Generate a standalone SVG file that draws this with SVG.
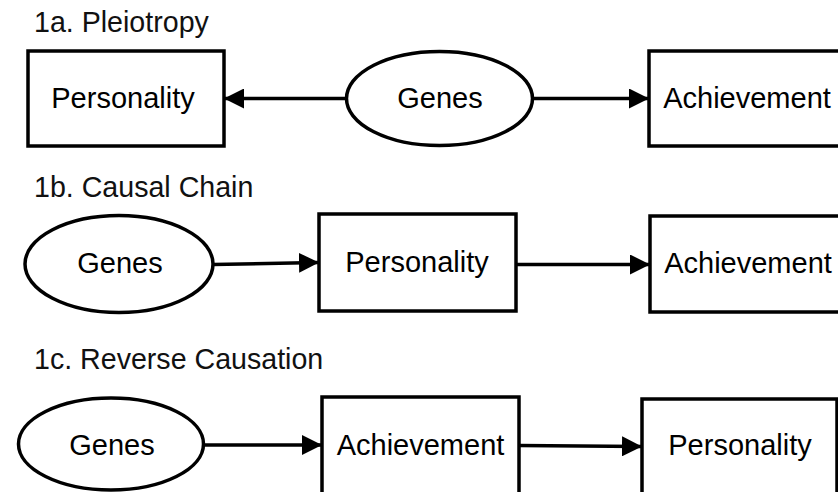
<svg xmlns="http://www.w3.org/2000/svg" width="838" height="492" viewBox="0 0 838 492">
<defs>
<style>
.box{fill:#fff;stroke:#000;stroke-width:3.5}
.lbl{font-family:"Liberation Sans",Arial,sans-serif;font-size:29px;fill:#000;text-anchor:middle}
.ttl{font-family:"Liberation Sans",Arial,sans-serif;font-size:28.6px;fill:#111}
.edge{stroke:#000;stroke-width:3.5;fill:none;marker-end:url(#ah)}
</style>
<marker id="ah" markerUnits="userSpaceOnUse" markerWidth="20" markerHeight="20" viewBox="0 0 20 20" refX="19" refY="10" orient="auto">
<path d="M0,0 L20,10 L0,20 Z" fill="#000"/>
</marker>
</defs>
<rect width="838" height="492" fill="#fff"/>
<text class="ttl" x="34" y="32">1a. Pleiotropy</text>
<text class="ttl" x="34" y="197">1b. Causal Chain</text>
<text class="ttl" x="34" y="369">1c. Reverse Causation</text>
<g id="a_personality"><rect class="box" x="28" y="51" width="196" height="95"/><text class="lbl" x="123" y="108">Personality</text></g>
<g id="a_genes"><ellipse class="box" cx="439.5" cy="98.5" rx="93" ry="47"/><text class="lbl" x="440" y="108">Genes</text></g>
<g id="a_achievement"><rect class="box" x="649" y="51" width="198" height="95"/><text class="lbl" x="747" y="108">Achievement</text></g>
<g id="b_genes"><ellipse class="box" cx="119" cy="264" rx="94" ry="48.5"/><text class="lbl" x="120" y="273">Genes</text></g>
<g id="b_personality"><rect class="box" x="319" y="214" width="197" height="97"/><text class="lbl" x="417" y="272">Personality</text></g>
<g id="b_achievement"><rect class="box" x="650" y="216" width="198" height="96"/><text class="lbl" x="748" y="273">Achievement</text></g>
<g id="c_genes"><ellipse class="box" cx="111" cy="444" rx="92.5" ry="46"/><text class="lbl" x="112" y="455">Genes</text></g>
<g id="c_achievement"><rect class="box" x="322" y="397" width="197" height="100"/><text class="lbl" x="420.5" y="455">Achievement</text></g>
<g id="c_personality"><rect class="box" x="642" y="399" width="195" height="100"/><text class="lbl" x="740" y="455">Personality</text></g>
<g id="connectors">
<line class="edge" x1="346" y1="98.5" x2="225" y2="98.5"/>
<line class="edge" x1="533" y1="98.5" x2="648" y2="98.5"/>
<line class="edge" x1="213" y1="264.5" x2="318" y2="262.5"/>
<line class="edge" x1="516" y1="264.5" x2="649" y2="264.5"/>
<line class="edge" x1="203.5" y1="445" x2="321" y2="445"/>
<line class="edge" x1="519" y1="445.5" x2="641" y2="446.5"/>
</g>
</svg>
